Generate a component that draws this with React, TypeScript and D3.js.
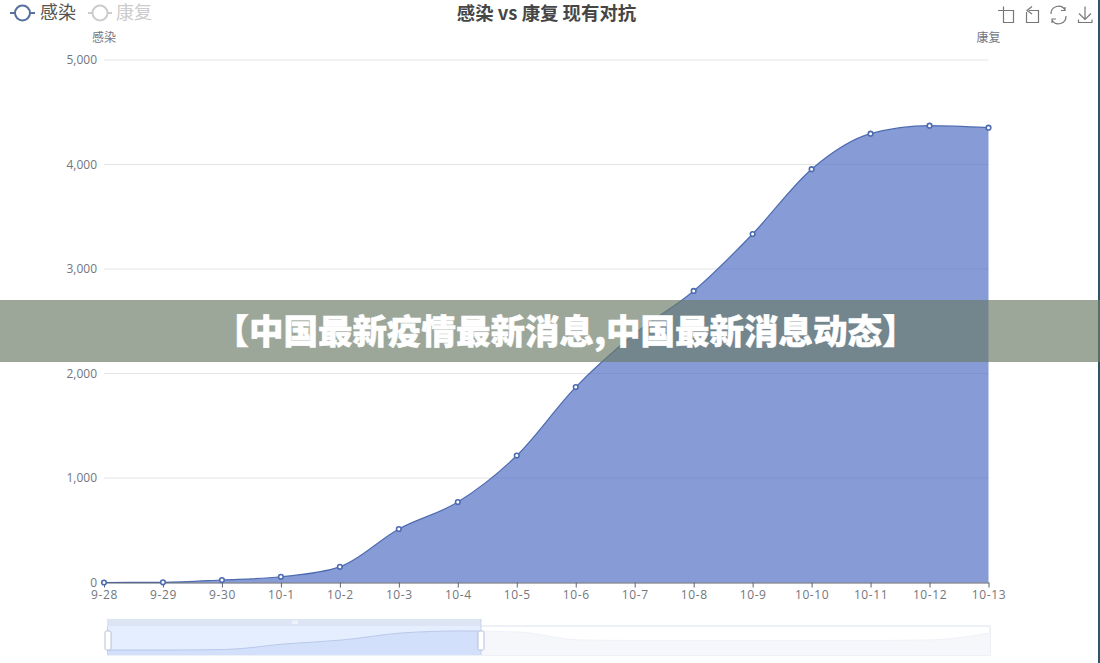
import { useEffect, useRef } from "react";
import * as d3 from "d3";

const days = ["9-28", "9-29", "9-30", "10-1", "10-2", "10-3", "10-4", "10-5", "10-6", "10-7", "10-8", "10-9", "10-10", "10-11", "10-12", "10-13"];
const infected = [0, 2, 24, 55, 150, 512, 770, 1215, 1870, 2380, 2790, 3335, 3955, 4295, 4372, 4352];
// shape of the slider's background series, read in percent of the slider height
const sliderShadow = [17, 17, 19, 38, 52, 76, 83, 79, 52, 50, 50, 50, 50, 50, 52, 76];
const yTicks = [0, 1000, 2000, 3000, 4000, 5000];
const legendNames = ["感染", "康复"];
const titleText = "感染 vs 康复 现有对抗";
const bannerText = "【中国最新疫情最新消息,中国最新消息动态】";

const WIDTH = 1100;
const HEIGHT = 663;
const FONT = '"Open Sans", "Noto Sans CJK SC", sans-serif';
const CJK = '"Noto Sans CJK SC", sans-serif';
const BLUE = "#5470c6";
const MARK = "#4d6bb0";
const LABEL = "#74767e";

export default function App() {
    const svgRef = useRef<SVGSVGElement>(null);

    useEffect(() => {
        if (!svgRef.current) return;
        const svg = d3.select(svgRef.current);
        svg.selectAll("*").remove();

        const x = d3.scalePoint<string>().domain(days).range([104, 988.5]);
        const y = d3.scaleLinear().domain([0, 5000]).range([582.5, 60]);

        // grid
        svg.append("g")
            .selectAll("line")
            .data(yTicks)
            .enter()
            .append("line")
            .attr("x1", 104)
            .attr("x2", 988.5)
            .attr("y1", (d) => y(d))
            .attr("y2", (d) => y(d))
            .attr("stroke", "#e4e4e7");

        // series
        const pts = days.map((d, i) => [x(d)!, infected[i]] as [number, number]);
        const area = d3
            .area<[number, number]>()
            .x((d) => d[0])
            .y0(y(0))
            .y1((d) => y(d[1]))
            .curve(d3.curveMonotoneX);
        svg.append("path").attr("d", area(pts)).attr("fill", BLUE).attr("fill-opacity", 0.7);
        svg.append("path")
            .attr("d", area.lineY1()(pts))
            .attr("fill", "none")
            .attr("stroke", MARK)
            .attr("stroke-width", 1.2);

        // x axis
        const xAxis = svg
            .append("g")
            .attr("transform", `translate(0,${y(0)})`)
            .call(d3.axisBottom(x).tickSize(5).tickPadding(3).tickSizeOuter(0));
        xAxis.select(".domain").attr("stroke", "#5f6270");
        xAxis.selectAll("line").attr("stroke", "#5f6270");
        xAxis
            .selectAll("text")
            .style("font-family", FONT)
            .style("font-size", "12px")
            .style("letter-spacing", "0.6px")
            .style("fill", LABEL);

        // y axis
        const yAxis = svg
            .append("g")
            .attr("transform", "translate(104,0)")
            .call(d3.axisLeft(y).tickValues(yTicks).tickSize(0).tickPadding(7).tickFormat(d3.format(",")));
        yAxis.select(".domain").remove();
        yAxis.selectAll("text").style("font-family", FONT).style("font-size", "12px").style("fill", LABEL);

        svg.append("g")
            .selectAll("circle")
            .data(pts)
            .enter()
            .append("circle")
            .attr("cx", (d) => d[0])
            .attr("cy", (d) => y(d[1]))
            .attr("r", 2.3)
            .attr("fill", "#fff")
            .attr("stroke", MARK)
            .attr("stroke-width", 1.6);

        // axis names
        [104, 988.5].forEach((px, i) => {
            svg.append("text")
                .attr("x", px)
                .attr("y", 42)
                .attr("text-anchor", "middle")
                .style("font-family", CJK)
                .style("font-size", "12px")
                .style("fill", LABEL)
                .text(legendNames[i]);
        });

        // title
        svg.append("text")
            .attr("x", 546.5)
            .attr("y", 20)
            .attr("text-anchor", "middle")
            .style("font-family", CJK)
            .style("font-size", "18.4px")
            .style("font-weight", 700)
            .style("fill", "#464646")
            .text(titleText);

        // legend
        const legendX = [10, 88];
        const legendWidth = [25, 24];
        const legendColor = ["#56709f", "#ccc"];
        const legendText = ["#555", "#ccc"];
        legendNames.forEach((name, i) => {
            const g = svg.append("g").attr("transform", `translate(${legendX[i]},13)`);
            g.append("line").attr("x1", 0).attr("x2", legendWidth[i]).attr("stroke", legendColor[i]).attr("stroke-width", 2);
            g.append("circle")
                .attr("cx", legendWidth[i] / 2)
                .attr("r", 7.5)
                .attr("fill", "#fff")
                .attr("stroke", legendColor[i])
                .attr("stroke-width", 2);
            g.append("text")
                .attr("x", legendWidth[i] + 5 - i)
                .attr("y", 6)
                .style("font-family", CJK)
                .style("font-size", "18px")
                .style("fill", legendText[i])
                .text(name);
        });

        // toolbox icons
        const icons = svg
            .append("g")
            .attr("fill", "none")
            .attr("stroke", "#777")
            .attr("stroke-width", 1.2);
        icons.append("path").attr("d", "M998 10.5H1013.5V23M1003.5 6.5V22.5H1013.5");
        icons.append("path").attr("d", "M1029 10.5H1038.5V22.5H1026.5V12M1032 6.5L1027 10.5L1032 14");
        icons.append("path").attr("d", "M1051 14A7.5 7.5 0 0 1 1065 10M1065 7V10.5H1061M1066 16A7.5 7.5 0 0 1 1052 20M1052 23V19H1056");
        icons.append("path").attr("d", "M1085 6.5V19M1079 13.5L1085 19.5L1091 13.5M1078.5 19.5V22.5H1092V19.5");

        // data zoom slider
        const sx = d3.scalePoint<string>().domain(days).range([108, 990]);
        const sy = d3.scaleLinear().domain([0, 100]).range([655, 626]);
        const shadowPts = days.map((d, i) => [sx(d)!, sliderShadow[i]] as [number, number]);
        const shadowArea = d3
            .area<[number, number]>()
            .x((d) => d[0])
            .y0(sy(0))
            .y1((d) => sy(d[1]))
            .curve(d3.curveMonotoneX);

        const defs = svg.append("defs");
        defs.append("clipPath").attr("id", "sel").append("rect").attr("x", 108).attr("y", 626).attr("width", 373).attr("height", 29);
        defs.append("clipPath").attr("id", "rest").append("rect").attr("x", 481).attr("y", 626).attr("width", 509).attr("height", 29);

        svg.append("rect")
            .attr("x", 108).attr("y", 626).attr("width", 882).attr("height", 29)
            .attr("fill", "#fff").attr("stroke", "#e8ebf5").attr("stroke-width", 1.5);
        svg.append("path").attr("d", shadowArea(shadowPts)).attr("clip-path", "url(#rest)").attr("fill", "#f6f7fb");
        svg.append("path").attr("d", shadowArea.lineY1()(shadowPts)).attr("clip-path", "url(#rest)").attr("fill", "none").attr("stroke", "#f0f2f9");

        svg.append("rect").attr("x", 108).attr("y", 626).attr("width", 373).attr("height", 29).attr("fill", "#e5eefe");
        svg.append("path").attr("d", shadowArea(shadowPts)).attr("clip-path", "url(#sel)").attr("fill", "#d3e0fb");
        svg.append("path").attr("d", shadowArea.lineY1()(shadowPts)).attr("clip-path", "url(#sel)").attr("fill", "none").attr("stroke", "#b9c9ea");
        svg.append("rect").attr("x", 107).attr("y", 619).attr("width", 374).attr("height", 7).attr("fill", "#dde4f3");
        svg.append("path").attr("d", "M293 620.5V624M295 620.5V624M297 620.5V624").attr("stroke", "#fff").attr("stroke-width", 1);
        svg.append("line").attr("x1", 107.5).attr("x2", 107.5).attr("y1", 626).attr("y2", 655).attr("stroke", "#c8d2ea");
        svg.append("line").attr("x1", 481).attr("x2", 481).attr("y1", 619).attr("y2", 655).attr("stroke", "#c8d2ea");
        [108, 481].forEach((px) => {
            svg.append("rect")
                .attr("x", px - 3).attr("y", 631).attr("width", 6).attr("height", 19).attr("rx", 1.5)
                .attr("fill", "#fff").attr("stroke", "#b5c0d8");
        });

        // right edge of the screenshot
        svg.append("rect").attr("x", 1098).attr("y", 0).attr("width", 2).attr("height", HEIGHT).attr("fill", "#2c5566");

        // banner
        svg.append("rect").attr("x", 0).attr("y", 300).attr("width", WIDTH).attr("height", 62).attr("fill", "rgb(107,124,104)").attr("fill-opacity", 0.67);
        svg.append("text")
            .attr("x", 565.5)
            .attr("y", 344)
            .attr("text-anchor", "middle")
            .style("font-family", CJK)
            .style("font-size", "34.5px")
            .style("font-weight", 900)
            .style("fill", "#fff")
            .style("stroke", "#fff")
            .style("stroke-width", 0.5)
            .text(bannerText);
    }, []);

    return (
        <svg
            ref={svgRef}
            width={WIDTH}
            height={HEIGHT}
            style={{ position: "fixed", left: 0, top: 0, background: "#fff" }}
        ></svg>
    );
}
